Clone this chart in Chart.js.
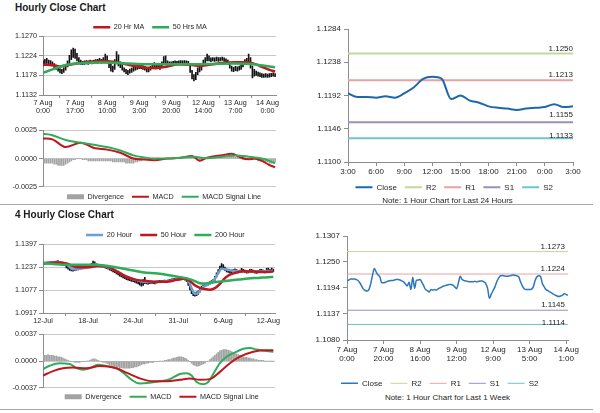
<!DOCTYPE html>
<html>
<head>
<meta charset="utf-8">
<script src="https://cdn.jsdelivr.net/npm/chart.js@4.4.1/dist/chart.umd.min.js"></script>
<style>
  html, body { margin: 0; padding: 0; background: #fff; }
  body { position: relative; width: 600px; height: 413px; overflow: hidden;
         font-family: 'Liberation Sans', Arial, sans-serif; color: #262626; }
  .box { position: absolute; }
  .title { position: absolute; left: 15px; font-size: 10px; font-weight: bold; line-height: 12px; color: #1a1a1a; }
  .note { position: absolute; left: 300px; width: 295px; text-align: center; font-size: 8px; line-height: 10px; }
  .rule { position: absolute; left: 0; width: 593px; height: 0; border-top: 1px solid #a6a6a6; }
</style>
</head>
<body>
<div class="title" style="top:2px">Hourly Close Chart</div>
<div class="box" style="left:0;top:11px;width:290px;height:106px"><canvas id="hourPrice"></canvas></div>
<div class="box" style="left:0;top:124px;width:290px;height:88px"><canvas id="hourMacd"></canvas></div>
<div class="box" style="left:300px;top:20px;width:295px;height:184px"><canvas id="dayClose"></canvas></div>
<div class="note" style="top:196px">Note: 1 Hour Chart for Last 24 Hours</div>
<div class="rule" style="top:204px"></div>

<div class="title" style="top:209px">4 Hourly Close Chart</div>
<div class="box" style="left:0;top:219px;width:290px;height:107px"><canvas id="fourPrice"></canvas></div>
<div class="box" style="left:0;top:328px;width:290px;height:85px"><canvas id="fourMacd"></canvas></div>
<div class="box" style="left:300px;top:227px;width:295px;height:163px"><canvas id="weekClose"></canvas></div>
<div class="note" style="top:393px">Note: 1 Hour Chart for Last 1 Week</div>
<div class="rule" style="top:409px"></div>

<script>
// ---------- Hourly close chart (1h bars, 7 Aug - 14 Aug) ----------
const hourlyTickIdx = [0, 17, 34, 51, 68, 85, 102, 119];
const hourlyTickLabels = [['7 Aug', '0:00'], ['7 Aug', '17:00'], ['8 Aug', '10:00'], ['9 Aug', '3:00'],
  ['9 Aug', '20:00'], ['12 Aug', '14:00'], ['13 Aug', '7:00'], ['14 Aug', '0:00']];
const hourlyYTicks = [1.1132, 1.1178, 1.1224, 1.1270];

const hourlyLow = [
  1.1200, 1.1204, 1.1206, 1.1205, 1.1203, 1.1200,
  1.1196, 1.1192, 1.1188, 1.1184, 1.1182, 1.1185,
  1.1190, 1.1198, 1.1205, 1.1215, 1.1220, 1.1218, 1.1212, 1.1206, 1.1204,
  1.1203, 1.1204, 1.1205, 1.1204, 1.1206, 1.1205, 1.1206, 1.1207, 1.1206, 1.1208, 1.1206,
  1.1208, 1.1212, 1.1208, 1.1196, 1.1188, 1.1186, 1.1192, 1.1205, 1.1200, 1.1196,
  1.1190, 1.1186, 1.1182, 1.1180, 1.1183, 1.1185, 1.1188, 1.1190, 1.1192, 1.1194,
  1.1194, 1.1192, 1.1190, 1.1186, 1.1186, 1.1190, 1.1196, 1.1198, 1.1197, 1.1194,
  1.1192, 1.1196, 1.1205, 1.1208, 1.1200, 1.1202,
  1.1203, 1.1204, 1.1205, 1.1204, 1.1205, 1.1206, 1.1205, 1.1206, 1.1205, 1.1203,
  1.1185, 1.1170, 1.1165, 1.1168, 1.1180, 1.1186, 1.1190, 1.1200, 1.1208, 1.1212, 1.1212,
  1.1210, 1.1212, 1.1211, 1.1212, 1.1211, 1.1212, 1.1213, 1.1211, 1.1209, 1.1204,
  1.1195, 1.1188, 1.1187, 1.1189, 1.1188, 1.1190, 1.1192, 1.1198, 1.1204, 1.1206,
  1.1210, 1.1195, 1.1172, 1.1176, 1.1178, 1.1176, 1.1175, 1.1173, 1.1173, 1.1174,
  1.1173, 1.1174, 1.1175, 1.1176, 1.1175];
const hourlyHigh = [
  1.1212, 1.1216, 1.1218, 1.1214, 1.1213, 1.1210,
  1.1206, 1.1202, 1.1198, 1.1194, 1.1192, 1.1196,
  1.1202, 1.1212, 1.1225, 1.1238, 1.1242, 1.1240, 1.1230, 1.1220, 1.1214,
  1.1211, 1.1212, 1.1213, 1.1212, 1.1214, 1.1212, 1.1214, 1.1215, 1.1216, 1.1218, 1.1216,
  1.1220, 1.1228, 1.1224, 1.1212, 1.1204, 1.1200, 1.1215, 1.1234, 1.1226, 1.1210,
  1.1202, 1.1196, 1.1192, 1.1190, 1.1193, 1.1195, 1.1198, 1.1200, 1.1202, 1.1204,
  1.1203, 1.1201, 1.1199, 1.1196, 1.1195, 1.1199, 1.1206, 1.1208, 1.1206, 1.1204,
  1.1202, 1.1210, 1.1222, 1.1224, 1.1212, 1.1210,
  1.1210, 1.1211, 1.1212, 1.1211, 1.1212, 1.1213, 1.1212, 1.1213, 1.1212, 1.1211,
  1.1205, 1.1190, 1.1180, 1.1185, 1.1196, 1.1198, 1.1204, 1.1214, 1.1220, 1.1228, 1.1224,
  1.1219, 1.1220, 1.1219, 1.1221, 1.1220, 1.1220, 1.1221, 1.1219, 1.1217, 1.1214,
  1.1207, 1.1200, 1.1197, 1.1199, 1.1198, 1.1200, 1.1204, 1.1210, 1.1215, 1.1218,
  1.1228, 1.1220, 1.1200, 1.1192, 1.1188, 1.1186, 1.1184, 1.1182, 1.1181, 1.1182,
  1.1181, 1.1182, 1.1183, 1.1184, 1.1182];

const hourlyMa20Idx = [0, 5, 9, 14, 20, 26, 32, 37, 44, 50, 55, 60, 66, 72, 78, 83, 88, 95, 102, 108, 112, 115, 120, 123];
const hourlyMa20 = [1.1203, 1.1202, 1.1199, 1.1203, 1.1207, 1.1210, 1.1212, 1.1210, 1.1204, 1.1199, 1.1196, 1.1195,
  1.1199, 1.1204, 1.1203, 1.1200, 1.1203, 1.1207, 1.1209, 1.1209, 1.1205, 1.1200, 1.1191, 1.1187];
const hourlyMa50Idx = [0, 5, 10, 15, 22, 30, 40, 50, 60, 70, 80, 90, 100, 110, 115, 120, 123];
const hourlyMa50 = [1.1184, 1.1192, 1.1200, 1.1205, 1.1207, 1.1208, 1.1207, 1.1205, 1.1204, 1.1204, 1.1204,
  1.1205, 1.1206, 1.1205, 1.1202, 1.1199, 1.1197];

const hourlyMacdYTicks = [-0.0025, 0, 0.0025];
const hourlyMacdIdx = [0, 5, 12, 20, 27, 34, 41, 48, 52, 59, 66, 73, 79, 83, 87, 95, 100, 105, 109, 112, 116, 120, 123];
const hourlyMacd = [0.00178, 0.0017, 0.00102, 0.00141, 0.00093, 0.00079, 0.00051, 0, -0.00006, -0.00014, 0, 0.00008,
  0.00023, -0.0002, 0.00008, 0.0003, 0.00042, 0.00008, -0.00006, 0, -0.0002, -0.00057, -0.00076];
const hourlySignalIdx = [0, 5, 12, 20, 27, 34, 41, 48, 55, 59, 66, 73, 80, 86, 95, 102, 109, 116, 120, 123];
const hourlySignal = [0.0022, 0.00207, 0.00164, 0.00141, 0.00122, 0.00102, 0.00071, 0.00028, 0.00006, 0, 0, 0.00008,
  0.00017, 0.00003, 0.00017, 0.00028, 0.00017, 0, -0.0002, -0.00042];
const hourlyDivergence = [
  -0.0004, -0.0004, -0.0004, -0.0004, -0.0004, -0.0004, -0.0005, -0.0005, -0.0006, -0.0006, -0.0006, -0.0006, -0.0005,
  -0.0004, -0.0003, -0.0002, -0.0001, -0.0001, 0, 0,
  0, -0.0001, -0.0001, -0.0001, -0.0002, -0.0002, -0.0002,
  -0.0002, -0.0002, -0.0002, -0.0002, -0.0002, -0.0002, -0.0002, -0.0002, -0.0002, -0.0002, -0.0003, -0.0003, -0.0003, -0.0003,
  -0.0003, -0.0003, -0.0003, -0.0004, -0.0004, -0.0004, -0.0004, -0.0004, -0.0003, -0.0003,
  -0.0002, -0.0002, -0.0001, -0.0001, -0.0001, -0.0001, 0, 0, 0, 0,
  0, 0, 0, 0, 0, 0, 0, 0, 0, 0, 0, 0, 0, 0, 0.0001, 0.0001, 0.0001, 0.0001, 0.0001, 0.0001,
  0, -0.0001, -0.0002, -0.0002, -0.0001, 0, 0, 0, 0.0001, 0.0001,
  0.0001, 0.0001, 0.0001, 0.0001, 0.0001, 0.0001, 0.0001, 0.0001, 0.0001, 0.0002, 0.0002, 0.0001, 0.0001, 0, 0,
  -0.0001, -0.0001, -0.0001, -0.0001, -0.0001,
  -0.0001, -0.0001, -0.0001, -0.0002, -0.0002, -0.0002, -0.0003, -0.0003, -0.0003, -0.0004, -0.0004, -0.0004, -0.0003];

// ---------- 4 hourly close chart (12 Jul - 12 Aug) ----------
const fourTickIdx = [0, 27, 54, 81, 108, 135];
const fourTickLabels = ['12-Jul', '18-Jul', '24-Jul', '31-Jul', '6-Aug', '12-Aug'];
const fourYTicks = [1.0917, 1.1077, 1.1237, 1.1397];

const fourLow = [
  1.1256, 1.1258, 1.1257, 1.1260, 1.1259, 1.1262, 1.1264, 1.1266, 1.1268, 1.1268,
  1.1263, 1.1259, 1.1255, 1.1250, 1.1232, 1.1222, 1.1214, 1.1210, 1.1209, 1.1213,
  1.1215, 1.1218, 1.1221, 1.1225, 1.1229, 1.1227, 1.1229, 1.1233, 1.1237, 1.1242,
  1.1255, 1.1250, 1.1244, 1.1240, 1.1239, 1.1238, 1.1236, 1.1232, 1.1226, 1.1222,
  1.1216, 1.1210, 1.1204, 1.1198, 1.1190, 1.1182, 1.1174, 1.1168, 1.1162, 1.1156,
  1.1150, 1.1146, 1.1142, 1.1138, 1.1135, 1.1130, 1.1125, 1.1120, 1.1112, 1.1104,
  1.1110, 1.1122, 1.1120, 1.1118, 1.1121, 1.1124, 1.1122, 1.1120, 1.1125, 1.1128,
  1.1131, 1.1129, 1.1131, 1.1133, 1.1131, 1.1135, 1.1138, 1.1141, 1.1143, 1.1145,
  1.1147, 1.1149, 1.1150, 1.1152, 1.1150, 1.1146, 1.1138, 1.1110, 1.1078, 1.1052,
  1.1038, 1.1035, 1.1038, 1.1046, 1.1062, 1.1080, 1.1094, 1.1100, 1.1106, 1.1111,
  1.1118, 1.1125, 1.1130, 1.1145, 1.1168, 1.1190, 1.1210, 1.1225, 1.1222, 1.1212,
  1.1204, 1.1200, 1.1196, 1.1199, 1.1203, 1.1205, 1.1200, 1.1197, 1.1199, 1.1204,
  1.1203, 1.1199, 1.1195, 1.1197, 1.1200, 1.1203, 1.1199, 1.1195, 1.1193, 1.1196,
  1.1200, 1.1203, 1.1199, 1.1197, 1.1198, 1.1204, 1.1202, 1.1206, 1.1205];
const fourHigh = [
  1.1268, 1.1270, 1.1268, 1.1271, 1.1270, 1.1273, 1.1276, 1.1278, 1.1280, 1.1282,
  1.1276, 1.1272, 1.1268, 1.1264, 1.1252, 1.1240, 1.1230, 1.1226, 1.1224, 1.1227,
  1.1229, 1.1232, 1.1235, 1.1239, 1.1243, 1.1241, 1.1243, 1.1247, 1.1252, 1.1262,
  1.1280, 1.1274, 1.1262, 1.1256, 1.1253, 1.1252, 1.1251, 1.1248, 1.1243, 1.1240,
  1.1234, 1.1228, 1.1222, 1.1216, 1.1208, 1.1200, 1.1192, 1.1186, 1.1180, 1.1174,
  1.1168, 1.1164, 1.1160, 1.1156, 1.1153, 1.1148, 1.1143, 1.1138, 1.1135, 1.1130,
  1.1150, 1.1165, 1.1142, 1.1136, 1.1137, 1.1139, 1.1137, 1.1135, 1.1139, 1.1142,
  1.1145, 1.1143, 1.1145, 1.1147, 1.1145, 1.1149, 1.1152, 1.1155, 1.1157, 1.1159,
  1.1161, 1.1164, 1.1166, 1.1168, 1.1166, 1.1163, 1.1160, 1.1150, 1.1120, 1.1090,
  1.1068, 1.1060, 1.1064, 1.1072, 1.1088, 1.1104, 1.1114, 1.1120, 1.1124, 1.1129,
  1.1137, 1.1144, 1.1152, 1.1172, 1.1198, 1.1220, 1.1245, 1.1262, 1.1255, 1.1238,
  1.1226, 1.1220, 1.1214, 1.1217, 1.1221, 1.1226, 1.1220, 1.1215, 1.1217, 1.1228,
  1.1221, 1.1217, 1.1213, 1.1215, 1.1222, 1.1221, 1.1217, 1.1213, 1.1211, 1.1214,
  1.1222, 1.1221, 1.1217, 1.1215, 1.1228, 1.1230, 1.1222, 1.1230, 1.1224];

const four20Idx = [0, 8, 14, 18, 22, 27, 31, 35, 40, 45, 50, 55, 60, 65, 70, 75, 80, 85, 87, 89, 91, 93, 96, 99,
  102, 105, 107, 110, 114, 118, 123, 129, 135, 138];
const four20 = [1.1262, 1.1272, 1.1258, 1.1222, 1.1225, 1.1236, 1.1256, 1.1248, 1.1232, 1.1205, 1.1170, 1.1150,
  1.1135, 1.1133, 1.1134, 1.1140, 1.1150, 1.1156, 1.1145, 1.1090, 1.1050, 1.1058, 1.1100, 1.1118,
  1.1140, 1.1195, 1.1225, 1.1220, 1.1212, 1.1208, 1.1208, 1.1206, 1.1210, 1.1212];
const four50Idx = [0, 9, 14, 20, 28, 33, 38, 44, 50, 56, 62, 68, 74, 80, 85, 88, 91, 94, 97, 100, 103, 106, 109,
  112, 116, 120, 126, 132, 138];
const four50 = [1.1266, 1.1270, 1.1262, 1.1238, 1.1236, 1.1245, 1.1244, 1.1208, 1.1170, 1.1148, 1.1140, 1.1135,
  1.1135, 1.1148, 1.1157, 1.1140, 1.1110, 1.1092, 1.1084, 1.1080, 1.1090, 1.1120, 1.1160,
  1.1184, 1.1200, 1.1208, 1.1207, 1.1203, 1.1207];
const four200Idx = [0, 14, 22, 30, 38, 46, 54, 62, 67, 73, 79, 85, 90, 93, 96, 100, 105, 112, 117, 123, 129, 135, 138];
const four200 = [1.1266, 1.1254, 1.1254, 1.1254, 1.1247, 1.1231, 1.1213, 1.1197, 1.1195, 1.1185, 1.1174, 1.1162,
  1.1145, 1.1128, 1.1122, 1.1128, 1.1135, 1.1144, 1.1150, 1.1158, 1.1162, 1.1167, 1.1168];

const fourMacdYTicks = [-0.0037, 0, 0.0037];
const fourMacdIdx = [0, 4, 10, 16, 20, 24, 28, 33, 38, 44, 48, 52, 58, 64, 70, 76, 82, 86, 89, 92, 96, 99, 102,
  106, 110, 115, 120, 124, 128, 134, 138];
const fourMacd = [-0.0011, -0.00065, -0.0003, -0.0004, -0.00096, -0.0012, -0.001, -0.0005, -0.0007, -0.001,
  -0.0016, -0.0024, -0.0031, -0.0030, -0.0028, -0.0025, -0.0018, -0.0017, -0.002, -0.0029,
  -0.0032, -0.0029, -0.0018, -0.0003, 0.0006, 0.0012, 0.0017, 0.0018, 0.0016, 0.0014, 0.0013];
const fourSignalIdx = [0, 6, 12, 18, 26, 34, 44, 50, 58, 66, 74, 82, 88, 94, 100, 106, 112, 118, 126, 134, 138];
const fourSignal = [-0.0020, -0.0014, -0.0010, -0.0009, -0.0010, -0.0007, -0.0010, -0.0016, -0.0024, -0.0028,
  -0.0028, -0.0026, -0.0024, -0.0026, -0.0025, -0.0015, -0.0003, 0.0006, 0.0013, 0.0015, 0.0015];
const fourDivergence = [
  0.0008, 0.0008, 0.0008, 0.0009, 0.0008, 0.0008, 0.0008, 0.0007, 0.0007, 0.0006,
  0.0006, 0.0005, 0.0004, 0.0003, 0.0002, 0.0001, 0, -0.0001, -0.0001, -0.0002,
  -0.0002, -0.0002, -0.0002, -0.0001, -0.0001, -0.0001, 0, 0, 0.0001, 0.0002,
  0.0003, 0.0003, 0.0002, 0.0001, 0, -0.0001, -0.0002, -0.0002, -0.0003, -0.0004,
  -0.0005, -0.0006, -0.0006, -0.0007, -0.0008, -0.0008, -0.0009, -0.0009, -0.0010, -0.0010,
  -0.0010, -0.0010, -0.0010, -0.0009, -0.0009, -0.0008, -0.0008, -0.0007, -0.0006, -0.0005,
  -0.0004, -0.0004, -0.0003, -0.0003, -0.0002, -0.0002, -0.0002, -0.0001, -0.0001, -0.0001,
  0, 0, 0, 0.0001, 0.0001, 0.0002, 0.0002, 0.0003, 0.0004, 0.0004,
  0.0005, 0.0006, 0.0006, 0.0006, 0.0005, 0.0004, 0.0003, 0.0001, -0.0001, -0.0003,
  -0.0005, -0.0006, -0.0007, -0.0007, -0.0006, -0.0005, -0.0004, -0.0003, -0.0001, 0,
  0.0002, 0.0004, 0.0006, 0.0008, 0.0010, 0.0012, 0.0014, 0.0015, 0.0016, 0.0016,
  0.0016, 0.0015, 0.0014, 0.0013, 0.0012, 0.0011, 0.0010, 0.0009, 0.0008, 0.0007,
  0.0006, 0.0005, 0.0005, 0.0004, 0.0004, 0.0003, 0.0003, 0.0002, 0.0002, 0.0001,
  0.0001, 0.0001, 0.0001, 0, 0, 0, 0, 0, 0];

// ---------- Last 24 hours close with pivot levels ----------
const dayTickIdx = [0, 3, 6, 9, 12, 15, 18, 21, 24];
const dayTickLabels = ['3:00', '6:00', '9:00', '12:00', '15:00', '18:00', '21:00', '0:00', '3:00'];
const dayYTicks = [1.1100, 1.1146, 1.1192, 1.1238, 1.1284];
const dayClose = [1.1195, 1.1190, 1.1190, 1.1189, 1.1191, 1.1189, 1.1195, 1.1203, 1.1215, 1.1218, 1.1215, 1.1187,
  1.1192, 1.1185, 1.1182, 1.1177, 1.1175, 1.1174, 1.1172, 1.1174, 1.1175, 1.1176, 1.1180, 1.1176, 1.1177];
const dayLevels = [1.1250, 1.1213, 1.1155, 1.1133];

// ---------- Last 1 week close with pivot levels ----------
const weekTickIdx = [0, 20, 40, 60, 80, 100, 120];
const weekTickLabels = [['7 Aug', '0:00'], ['7 Aug', '20:00'], ['8 Aug', '16:00'], ['9 Aug', '12:00'],
  ['12 Aug', '9:00'], ['13 Aug', '5:00'], ['14 Aug', '1:00']];
const weekYTicks = [1.1080, 1.11368, 1.11936, 1.12503, 1.1307];
const weekClose = [
  1.1209, 1.1211, 1.1213, 1.1213, 1.1213, 1.1212, 1.1210, 1.1205, 1.1198, 1.1191,
  1.1188, 1.1187, 1.1190, 1.1203, 1.1222, 1.1236, 1.1228, 1.1222, 1.1218, 1.1205,
  1.1205, 1.1206, 1.1208, 1.1209, 1.1210, 1.1210, 1.1211, 1.1212, 1.1212, 1.1211,
  1.1209, 1.1207, 1.1202, 1.1198, 1.1206, 1.1190, 1.1217, 1.1193, 1.1210, 1.1211,
  1.1212, 1.1206, 1.1198, 1.1190, 1.1188, 1.1185, 1.1190, 1.1189, 1.1190, 1.1189,
  1.1192, 1.1194, 1.1196, 1.1198, 1.1199, 1.1200, 1.1201, 1.1201, 1.1200, 1.1196,
  1.1192, 1.1205, 1.1219, 1.1212, 1.1210, 1.1209, 1.1208, 1.1207, 1.1207, 1.1207,
  1.1208, 1.1207, 1.1208, 1.1209, 1.1209, 1.1207, 1.1203, 1.1192, 1.1171, 1.1180,
  1.1188, 1.1196, 1.1207, 1.1215, 1.1220, 1.1221, 1.1220, 1.1219, 1.1219, 1.1220,
  1.1221, 1.1222, 1.1221, 1.1220, 1.1218, 1.1207, 1.1198, 1.1192, 1.1190, 1.1190,
  1.1190, 1.1191, 1.1196, 1.1210, 1.1218, 1.1220, 1.1218, 1.1203, 1.1196, 1.1190,
  1.1188, 1.1185, 1.1183, 1.1180, 1.1178, 1.1176, 1.1175, 1.1176, 1.1178, 1.1181,
  1.1179, 1.1178];
const weekLevels = [1.1273, 1.1224, 1.1145, 1.1114];

const levelNames = ['R2', 'R1', 'S1', 'S2'];
const levelColors = ['#c4d79b', '#e6a3a2', '#9c8fbc', '#6cc3d1'];

// ---------- helpers ----------
const FONT = "'Liberation Sans', Arial, sans-serif";
const INK = '#262626';
const AXIS = '#8c8c8c';
Chart.defaults.font.family = FONT;
Chart.defaults.color = INK;

const pts = (xs, ys) => xs.map((x, k) => ({ x, y: ys[k] }));
const fixTicks = (values) => (scale) => { scale.ticks = values.map((value) => ({ value })); };

// shift the legend box after layout (Excel puts it closer to the plot than Chart.js does)
const nudge = {
  id: 'nudge',
  afterLayout(chart, args, opts) {
    const lg = chart.legend;
    if (!lg) return;
    lg.top += opts.dy || 0; lg.bottom += opts.dy || 0;
    lg.left += opts.dx || 0; lg.right += opts.dx || 0;
  }
};

// value tags written above the pivot lines at the right end
const levelTags = {
  id: 'levelTags',
  afterDatasetsDraw(chart, args, opts) {
    const { ctx, chartArea, scales } = chart;
    ctx.save();
    ctx.font = `${opts.size}px ${FONT}`;
    ctx.fillStyle = INK;
    ctx.textAlign = 'right';
    ctx.textBaseline = 'middle';
    chart.data.datasets.forEach((ds) => {
      if (ds.tag === undefined) return;
      const y = scales.y.getPixelForValue(ds.tag) - ds.tagLift;
      ctx.fillText(ds.tag.toFixed(4), chartArea.right - opts.inset, y);
    });
    ctx.restore();
  }
};

const line = (label, data, color, width, order) => ({
  label, data, order,
  borderColor: color, backgroundColor: color,
  borderWidth: width, pointBorderWidth: width, pointStyle: 'line',
  cubicInterpolationMode: 'monotone'
});

const legendOpts = (position, size, filter) => ({
  position,
  labels: {
    usePointStyle: true, pointStyleWidth: 17, boxHeight: 5, padding: 8,
    color: INK, font: { size },
    sort: (a, b) => a.datasetIndex - b.datasetIndex,
    filter: filter || (() => true)
  }
});

const baseOptions = (padding, legend, shift) => ({
  responsive: true,
  maintainAspectRatio: false,
  animation: false,
  events: [],
  layout: { padding },
  elements: { point: { radius: 0 }, line: { fill: false } },
  plugins: { tooltip: { enabled: false }, legend, nudge: shift }
});

const leftY = (min, max, ticks) => ({
  min, max,
  afterBuildTicks: fixTicks(ticks),
  afterFit: (s) => { s.width = 43; },
  ticks: { font: { size: 7.2 }, color: INK, padding: 2, callback: (v) => v.toFixed(4) },
  grid: { color: '#c8c8c8', tickColor: AXIS, tickLength: 4 },
  border: { color: AXIS }
});

const leftX = (max, ticks, labels, height) => ({
  type: 'linear', min: 0, max, offset: false,
  afterBuildTicks: fixTicks(ticks),
  afterFit: (s) => { s.height = height; },
  ticks: { font: { size: 7.2, lineHeight: 1.1 }, color: INK, padding: 1, maxRotation: 0, autoSkip: false,
    callback: (v, i) => labels[i] },
  grid: { drawOnChartArea: false, color: AXIS, tickLength: 3 },
  border: { color: AXIS }
});

const rightY = (min, max, ticks, width) => ({
  min, max,
  afterBuildTicks: fixTicks(ticks),
  afterFit: (s) => { s.width = width; },
  ticks: { font: { size: 8 }, color: INK, padding: 3, callback: (v) => v.toFixed(4) },
  grid: { drawOnChartArea: false, color: AXIS, tickLength: 4 },
  border: { color: AXIS }
});

const rightX = (max, ticks, labels, height) => ({
  type: 'linear', min: 0, max, offset: false,
  afterBuildTicks: fixTicks(ticks),
  afterFit: (s) => { s.height = height; },
  ticks: { font: { size: 8, lineHeight: 1.15 }, color: INK, padding: 1, maxRotation: 0, autoSkip: false,
    callback: (v, i) => labels[i] },
  grid: { drawOnChartArea: false, color: AXIS, tickLength: 4 },
  border: { color: AXIS }
});

const rangeBars = (lows, highs) => ({
  type: 'bar', label: 'Close', order: 9,
  data: lows.map((lo, i) => ({ x: i, y: [lo, highs[i]] })),
  backgroundColor: '#141414', barThickness: 1
});

const divergenceBars = (values) => ({
  type: 'bar', label: 'Divergence', order: 9, pointStyle: 'rect',
  data: values.map((v, i) => ({ x: i, y: v })),
  backgroundColor: '#a3a3a3', borderWidth: 0, barThickness: 1
});

const levelSets = (levels, lastX, width, lifts) => levels.map((lvl, k) => ({
  label: levelNames[k],
  data: [{ x: 0, y: lvl }, { x: lastX, y: lvl }],
  borderColor: levelColors[k], backgroundColor: levelColors[k],
  borderWidth: width, pointBorderWidth: width, pointStyle: 'line',
  tension: 0, order: 5, tag: lvl, tagLift: lifts[k]
}));

// ---------- hourly price ----------
new Chart(document.getElementById('hourPrice'), {
  type: 'line',
  data: { datasets: [
    rangeBars(hourlyLow, hourlyHigh),
    line('20 Hr MA', pts(hourlyMa20Idx, hourlyMa20), '#c0161d', 2.5, 2),
    line('50 Hrs MA', pts(hourlyMa50Idx, hourlyMa50), '#2eac5a', 2.5, 1)
  ] },
  options: Object.assign(baseOptions({ top: 0, right: 14, left: 0, bottom: 0 },
    legendOpts('top', 7.2, (it) => it.datasetIndex > 0), { dx: 12, dy: 4.6 }), {
    scales: { x: leftX(123.5, hourlyTickIdx, hourlyTickLabels, 22), y: leftY(1.1132, 1.1270, hourlyYTicks) }
  }),
  plugins: [nudge]
});

// ---------- hourly MACD ----------
new Chart(document.getElementById('hourMacd'), {
  type: 'line',
  data: { datasets: [
    divergenceBars(hourlyDivergence),
    line('MACD', pts(hourlyMacdIdx, hourlyMacd), '#c0161d', 2, 2),
    line('MACD Signal Line', pts(hourlySignalIdx, hourlySignal), '#2eac5a', 2, 1)
  ] },
  options: Object.assign(baseOptions({ top: 4.3, right: 14, left: 0, bottom: 0 },
    legendOpts('bottom', 7.2), { dx: 26, dy: -1.6 }), {
    scales: {
      x: { type: 'linear', min: 0, max: 123.5, offset: false, display: false },
      y: leftY(-0.0025, 0.0025, hourlyMacdYTicks)
    }
  }),
  plugins: [nudge]
});

// ---------- 24 hour close ----------
new Chart(document.getElementById('dayClose'), {
  type: 'line',
  data: { datasets: [
    Object.assign(line('Close', pts(dayClose.map((v, i) => i), dayClose), '#1f67ad', 2, 1), { tension: 0 }),
    ...levelSets(dayLevels, 24, 2, [5, 5.7, 7.4, 2.7])
  ] },
  options: Object.assign(baseOptions({ top: 9, right: 22, left: 0, bottom: 0 },
    legendOpts('bottom', 8), { dx: 17.7, dy: -2.7 }), {
    scales: { x: rightX(24, dayTickIdx, dayTickLabels, 16), y: rightY(1.1100, 1.1284, dayYTicks, 48) }
  }),
  plugins: [nudge, levelTags]
});
Chart.getChart('dayClose').options.plugins.levelTags = { size: 8, inset: 0 };
Chart.getChart('dayClose').update();

// ---------- 4 hourly price ----------
new Chart(document.getElementById('fourPrice'), {
  type: 'line',
  data: { datasets: [
    rangeBars(fourLow, fourHigh),
    line('20 Hour', pts(four20Idx, four20), '#6f9dd4', 2.5, 3),
    line('50 Hour', pts(four50Idx, four50), '#c0161d', 2.5, 2),
    line('200 Hour', pts(four200Idx, four200), '#2eac5a', 2.5, 1)
  ] },
  options: Object.assign(baseOptions({ top: 0, right: 15, left: 0, bottom: 0 },
    legendOpts('top', 7.2, (it) => it.datasetIndex > 0), { dx: 27.8, dy: 4.3 }), {
    scales: { x: leftX(139, fourTickIdx, fourTickLabels, 13), y: leftY(1.0917, 1.1397, fourYTicks) }
  }),
  plugins: [nudge]
});

// ---------- 4 hourly MACD ----------
new Chart(document.getElementById('fourMacd'), {
  type: 'line',
  data: { datasets: [
    divergenceBars(fourDivergence),
    line('MACD', pts(fourMacdIdx, fourMacd), '#2eac5a', 2, 2),
    line('MACD Signal Line', pts(fourSignalIdx, fourSignal), '#c0161d', 2, 1)
  ] },
  options: Object.assign(baseOptions({ top: 4.3, right: 15, left: 0, bottom: 0 },
    legendOpts('bottom', 7.2), { dx: 24.2, dy: -2.6 }), {
    scales: {
      x: { type: 'linear', min: 0, max: 139, offset: false, display: false },
      y: leftY(-0.0037, 0.0037, fourMacdYTicks)
    }
  }),
  plugins: [nudge]
});

// ---------- 1 week close ----------
new Chart(document.getElementById('weekClose'), {
  type: 'line',
  data: { datasets: [
    Object.assign(line('Close', pts(weekClose.map((v, i) => i), weekClose), '#2a76bf', 1.5, 1), { tension: 0 }),
    ...levelSets(weekLevels, weekClose.length - 1, 1, [4.3, 5, 5.3, 1.6])
  ] },
  options: Object.assign(baseOptions({ top: 9, right: 27, left: 0, bottom: 0 },
    legendOpts('bottom', 8), { dx: 5.7, dy: 7.3 }), {
    scales: { x: rightX(weekClose.length - 1, weekTickIdx, weekTickLabels, 24), y: rightY(1.1080, 1.1307, weekYTicks, 47) }
  }),
  plugins: [nudge, levelTags]
});
Chart.getChart('weekClose').options.plugins.levelTags = { size: 8, inset: 3 };
Chart.getChart('weekClose').update();
</script>
</body>
</html>
